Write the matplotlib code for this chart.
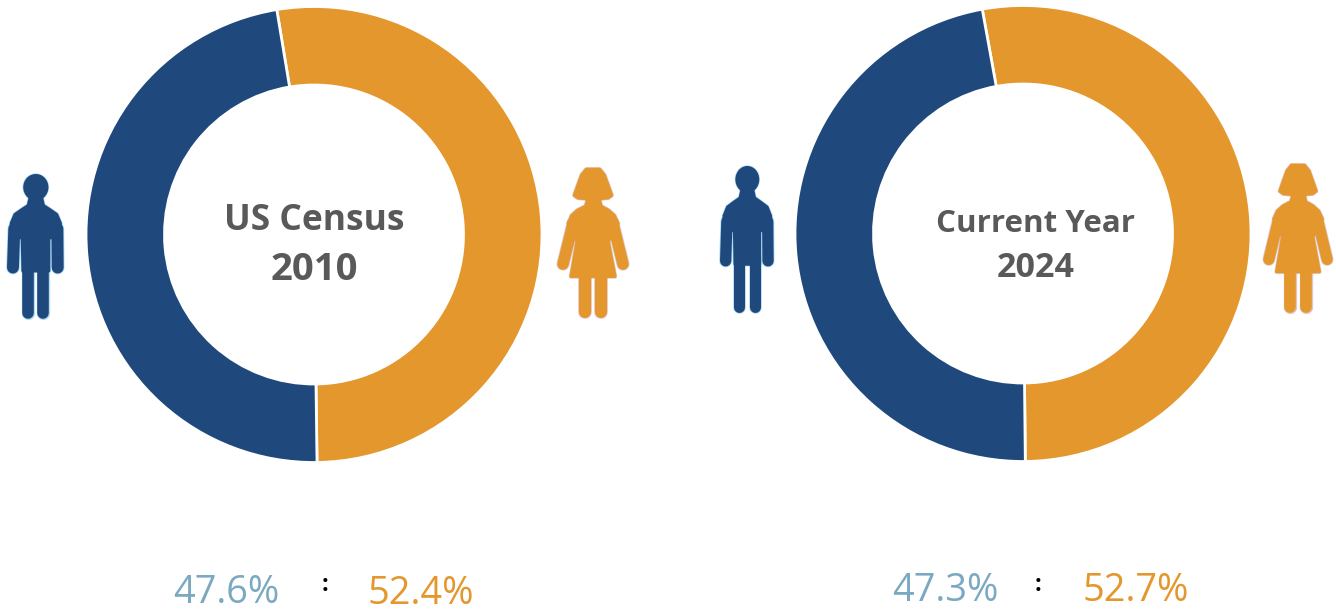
import matplotlib
matplotlib.use("Agg")
from matplotlib import pyplot as plt
from matplotlib.patches import Ellipse, Polygon

W, H = 1336, 613
BLUE = "#1f497d"
ORANGE = "#e3972d"
LABEL_BLUE = "#7ba9c1"
CENTER_GREY = "#595959"

titles = [["US Census", "2010"], ["Current Year", "2024"]]
male_share = [47.6, 47.3]
female_share = [52.4, 52.7]

# pixel layout for each donut
centers = [(314, 234.5), (1023, 233.5)]
radius = 228
hole = 149.5
start_angles = [99.4, 100.3]
title_x = [314, 1036]
title_y = [[220.5, 269.5], [223.5, 268]]
title_size = [[25.5, 27.5], [22.5, 24.5]]
male_label = [(226.5, 593), (945.5, 591)]
female_label = [(421, 593.5), (1136, 591)]
colon_pos = [(325, 585), (1038, 585)]

plt.rcParams["font.family"] = ["Open Sans", "DejaVu Sans"]

fig = plt.figure(figsize=(W / 100, H / 100), dpi=100)


def add_donut(i):
    cx, cy = centers[i]
    ax = fig.add_axes([(cx - radius - 2) / W, 1 - (cy + radius + 2) / H,
                       (2 * radius + 4) / W, (2 * radius + 4) / H])
    ax.pie([female_share[i], male_share[i]], colors=[ORANGE, BLUE],
           startangle=start_angles[i], counterclock=False, radius=1,
           wedgeprops=dict(width=(radius - hole) / radius, edgecolor="white", linewidth=2.0))
    ax.set_xlim(-(radius + 2) / radius, (radius + 2) / radius)
    ax.set_ylim(-(radius + 2) / radius, (radius + 2) / radius)
    ax.set_axis_off()


for i in range(2):
    add_donut(i)

# overlay in image pixels
over = fig.add_axes([0, 0, 1, 1])
over.set_xlim(0, W)
over.set_ylim(H, 0)
over.set_axis_off()
over.patch.set_alpha(0)


def limb(x0, y0, x1, y1, sx, width, color, glow):
    lw = width * sx * 0.72
    over.plot([x0, x1], [y0, y1], color=glow, lw=lw + 1.2, solid_capstyle="round", alpha=0.6, zorder=3)
    over.plot([x0, x1], [y0, y1], color=color, lw=lw, solid_capstyle="round", zorder=4)


def blob(pts, tr, color, glow):
    xy = [tr(*p) for p in pts]
    over.add_patch(Polygon(xy, closed=True, fc=glow, ec=glow, lw=3.2, joinstyle="round", alpha=0.6, zorder=3))
    over.add_patch(Polygon(xy, closed=True, fc=color, ec=color, lw=2.2, joinstyle="round", zorder=5))


def icon_transform(box, src):
    sx = (box[1] - box[0]) / (src[1] - src[0])
    sy = (box[3] - box[2]) / (src[3] - src[2])
    return lambda x, y: (box[0] + (x - src[0]) * sx, box[2] + (y - src[2]) * sy), sx, sy


def draw_man(box, color=BLUE, glow="#7cc4e8"):
    tr, sx, sy = icon_transform(box, (20, 192, 70, 510))
    for a, b, c, d, w in [(42, 235, 38, 352, 36), (172, 235, 173, 352, 36),
                          (82, 340, 82, 490, 35), (130, 340, 130, 490, 35)]:
        limb(*tr(a, b), *tr(c, d), sx, w, color, glow)
    pts = [(90, 140), (124, 140), (130, 165), (150, 178), (170, 192), (181, 218), (181, 262), (146, 262),
           (146, 362), (68, 362), (66, 262), (33, 262), (33, 218), (44, 192), (64, 178), (84, 165)]
    blob(pts, tr, color, glow)
    over.add_patch(Ellipse(tr(107, 110), 80 * sx, 84 * sy, fc=glow, ec="none", alpha=0.6, zorder=3))
    over.add_patch(Ellipse(tr(107, 110), 76 * sx, 80 * sy, fc=color, ec="none", zorder=6))


def draw_woman(box, color=ORANGE, glow="#cf9fa0"):
    tr, sx, sy = icon_transform(box, (50, 266, 48, 502))
    for a, b, c, d, w in [(98, 218, 68, 340, 34), (218, 218, 248, 340, 34),
                          (133, 370, 133, 485, 36), (183, 370, 183, 485, 36)]:
        limb(*tr(a, b), *tr(c, d), sx, w, color, glow)
    hair = [(138, 55), (178, 55), (192, 72), (204, 105), (214, 133), (203, 141), (180, 143), (136, 143),
            (113, 141), (102, 133), (112, 105), (124, 72)]
    dress = [(144, 140), (176, 140), (182, 166), (204, 178), (222, 194), (233, 218), (214, 252), (204, 272),
             (224, 377), (92, 377), (110, 272), (102, 252), (84, 218), (94, 194), (112, 178), (136, 166)]
    blob(hair, tr, color, glow)
    blob(dress, tr, color, glow)


draw_man((7, 64, 174, 320))
draw_man((720, 774, 166, 314))
draw_woman((557, 629, 167, 318))
draw_woman((1263, 1333, 163, 313))

for i in range(2):
    for j in range(2):
        over.text(title_x[i], title_y[i][j], titles[i][j], fontsize=title_size[i][j], fontweight="bold",
                  color=CENTER_GREY, ha="center", va="center")
    over.text(*male_label[i], "%.1f%%" % male_share[i], fontsize=27.3, color=LABEL_BLUE, ha="center", va="center")
    over.text(*female_label[i], "%.1f%%" % female_share[i], fontsize=27.3, color=ORANGE, ha="center", va="center")
    over.text(*colon_pos[i], ":", fontsize=17, fontweight="bold", color="black", ha="center", va="center")

fig.savefig("out.png", dpi=100, facecolor="white")
